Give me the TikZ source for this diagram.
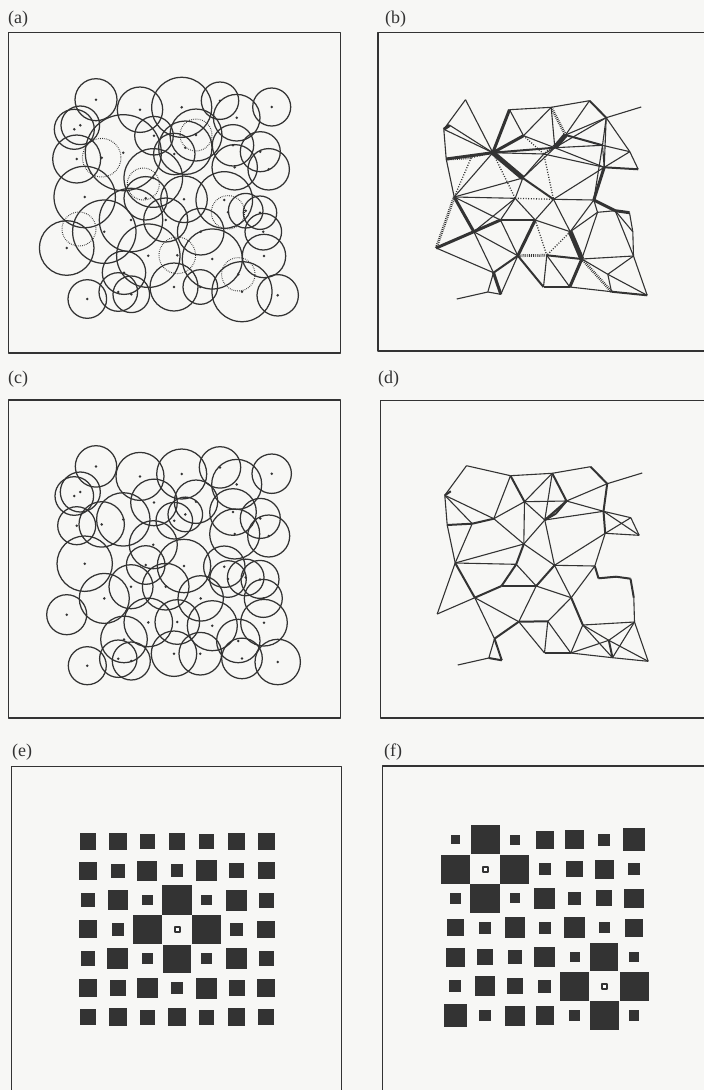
\documentclass[tikz,border=0pt]{standalone}
\usepackage{fontspec}
\setmainfont{Liberation Serif}
\definecolor{ink}{HTML}{333333}
\definecolor{paper}{HTML}{F7F7F5}
\tikzset{
  panelbox/.style={draw=ink, line width=1.3pt},
  panellabel/.style={font=\fontsize{18}{20}\selectfont, anchor=west, inner sep=0pt, text=ink},
  cell/.style={draw=ink, line width=1.25pt},
  cellalt/.style={draw=ink, line width=1pt, dash pattern=on 0.7pt off 1.2pt},
  centre/.style={fill=ink},
  thinedge/.style={draw=ink, line width=1.1pt},
  midedge/.style={draw=ink, line width=2pt},
  thickedge/.style={draw=ink, line width=3pt},
  heavyedge/.style={draw=ink, line width=4.8pt},
  hatchedge/.style={draw=ink, line width=2.8pt, dash pattern=on 0.8pt off 1.1pt},
  dotedge/.style={draw=ink, line width=1.3pt, dash pattern=on 1pt off 1.6pt},
  sqfill/.style={fill=ink},
  holecell/.style={draw=ink, line width=2.2pt, minimum size=5pt, inner sep=0pt, fill=white},
}
% cell centres, in the frame of panel (a)
\newcommand{\cellpts}{1/96.0/99.7, 2/140.0/109.7, 3/181.7/107.3, 4/220.0/100.7,
  5/236.7/117.7, 6/271.7/107.0, 7/80.3/125.3, 8/74.3/129.3, 9/154.0/135.7,
  10/196.0/135.0, 11/185.3/147.7, 12/174.3/154.0, 13/123.3/152.7, 14/101.7/157.7,
  15/76.7/159.0, 16/233.0/145.3, 17/260.3/151.7, 18/268.7/169.3, 19/234.7/167.3,
  20/153.3/178.0, 21/84.7/197.0, 22/145.7/198.3, 23/184.0/199.3, 24/224.3/200.0,
  25/228.0/212.3, 26/245.7/210.7, 27/260.0/212.7, 28/131.0/220.0, 29/165.7/220.0,
  30/104.3/231.7, 31/200.7/231.7, 32/263.3/231.7, 33/66.7/248.0, 34/148.3/255.7,
  35/177.3/255.3, 36/212.3/259.0, 37/264.0/256.0, 38/124.0/272.7, 39/238.3/274.3,
  40/174.0/287.0, 41/200.3/287.0, 42/118.3/292.0, 43/131.3/294.3, 44/242.0/291.7,
  45/277.7/295.3, 46/87.3/299.0}
% square sizes of the two grids, row by row (0 = hollow cell)
\newcommand{\gridE}{{16.7,17.7,15,16.7,14.7,17.7,16.7},{17.7,14.3,20,12.7,20.7,15,17.3},
  {14.3,20.3,10.3,29.3,10.7,21,15},{18,12.3,29,0,29,13.3,17.7},
  {14.7,21,11,28.3,11.3,20.7,15},{17.7,15.7,20.7,12.7,21,16,17.7},
  {16,17.7,15.3,17.7,15,17.7,15.7}}
\newcommand{\gridF}{{9.3,29,10.3,18.3,19,12.3,22.7},{29,0,29,12.3,16.7,19,12.3},
  {10.7,29.3,10,20.7,13.3,16,19.3},{17.3,11.7,20.7,12.3,20.7,11.3,18.3},
  {19,15.7,14,20.7,10,28.3,10.7},{11.7,19.7,16,12.7,29.3,0,29},
  {23.3,11.7,20,18.3,11,29,10.7}}

\begin{document}
\begin{tikzpicture}[x=1pt, y=-1pt, line join=round]

  \useasboundingbox (0,0) rectangle (704,1090);
  \clip (0,0) rectangle (704,1090);
  \fill[paper] (0,0) rectangle (704,1090);

  %% ---- labels and frames ----
  \node[panellabel] (lblA) at (8,19)    {(a)};
  \node[panellabel] (lblB) at (385,19)  {(b)};
  \node[panellabel] (lblC) at (8,379)   {(c)};
  \node[panellabel] (lblD) at (378,379) {(d)};
  \node[panellabel] (lblE) at (12,752)  {(e)};
  \node[panellabel] (lblF) at (384,752) {(f)};

  \draw[panelbox] (8.3,32.5)   rectangle (340.5,353);
  \draw[panelbox] (378,32.5)   rectangle (712,351);
  \draw[panelbox] (8.3,400)    rectangle (340.7,718);
  \draw[panelbox] (380.3,400.7) rectangle (712,718);
  \draw[panelbox] (11.7,766.7) rectangle (341.7,1100);
  \draw[panelbox] (382.7,766)  rectangle (712,1100);

  %% ---- (a) cells with spread radii ----
  \begin{scope}
    \foreach \n/\x/\y in \cellpts {\coordinate (a\n) at (\x,\y);}
    \foreach \n/\r in {1/21.0, 2/22.7, 3/30.0, 4/18.7, 5/23.3, 6/19.0, 7/19.3,
        8/20.0, 9/19.3, 10/26.0, 11/26.7, 12/20.7, 13/38.0, 15/24.0, 16/20.7,
        17/20.0, 18/20.7, 19/22.7, 20/29.3, 21/30.7, 22/21.7, 23/23.3, 24/28.3,
        26/17.3, 27/16.7, 28/31.7, 29/22.0, 30/31.7, 31/23.3, 32/18.3, 33/27.3,
        34/31.7, 36/30.0, 37/21.7, 38/21.7, 40/24.0, 41/17.3, 42/19.3, 43/18.3,
        44/30.0, 45/20.7, 46/19.3}
      {\draw[cell] (a\n) circle[radius=\r];}
    \foreach \n/\r in {14/19.3, 25/16.7, 35/18.3, 39/16.7, 10/16.0}
      {\draw[cellalt] (a\n) circle[radius=\r];}
    \draw[cellalt] (79,229) circle[radius=17];
    \draw[cellalt] (143.3,184) circle[radius=16];
    \foreach \n/\x/\y in \cellpts {\fill[centre] (a\n) circle[radius=1.4];}
  \end{scope}

  %% ---- (b) network, weighted ----
  \begin{scope}[shift={(369.5,0)}]
    \foreach \n/\x/\y in \cellpts {\coordinate (b\n) at (\x,\y);}
    \foreach \u/\v in {1/8, 1/13, 7/13, 8/13, 2/9, 3/9, 2/3, 3/4, 5/6, 5/16,
        5/11, 9/11, 11/16, 16/17, 17/18, 16/19, 17/19, 12/20, 11/20, 20/22,
        20/21, 22/28, 22/29, 23/29, 23/24, 5/19, 25/26, 24/25, 25/31,
        27/32, 26/32, 32/37, 37/45, 39/44, 36/39, 40/41, 35/40, 35/41,
        38/42, 42/43, 43/34, 42/46, 30/34, 28/34, 30/38, 21/28, 8/15,
        15/21, 23/31, 29/31, 36/37, 37/39, 24/31, 5/17, 22/30, 4/10, 3/11,
        10/5, 12/13, 12/11, 19/11, 13/21, 21/22, 28/29, 25/36, 41/44, 33/38,
        39/45, 26/37, 16/24, 19/23, 12/19}
      {\draw[thinedge] (b\u) -- (b\v);}
    \foreach \u/\v in {4/5, 20/23, 35/36, 44/45, 18/19, 16/10, 13/11, 34/40, 34/38}
      {\draw[midedge] (b\u) -- (b\v);}
    \foreach \u/\v in {2/13, 13/15, 21/30, 29/34, 24/26, 26/27, 30/33, 28/30,
        9/13, 7/8, 38/43, 36/41, 19/24}
      {\draw[thickedge] (b\u) -- (b\v);}
    \foreach \u/\v in {13/20, 31/36, 10/11}
      {\draw[heavyedge] (b\u) -- (b\v);}
    \foreach \u/\v in {3/10, 14/15, 21/33, 34/35, 36/44}
      {\draw[hatchedge] (b\u) -- (b\v);}
    \foreach \u/\v in {13/14, 14/21, 13/22, 22/23, 29/35, 10/12, 31/35, 12/23, 9/12}
      {\draw[dotedge] (b\u) -- (b\v);}
  \end{scope}

  %% ---- (c) cells, even radii ----
  \begin{scope}[shift={(0,366.7)}]
    \foreach \n/\x/\y in \cellpts {\coordinate (c\n) at (\x,\y);}
    \foreach \n/\r in {1/20.7, 2/24.0, 3/25.0, 4/20.7, 5/25.0, 6/19.7, 7/20.0,
        8/19.3, 9/23.3, 10/21.7, 11/17.3, 12/18.3, 13/26.7, 14/22.7, 15/19.0,
        16/23.3, 17/20.0, 18/21.0, 19/25.0, 20/24.0, 21/27.7, 22/19.3, 23/26.7,
        24/20.7, 25/18.3, 26/18.3, 27/19.0, 28/22.0, 29/23.3, 30/25.0, 31/22.7,
        32/19.0, 33/20.0, 34/24.3, 35/22.3, 36/25.0, 37/23.3, 38/23.3, 39/21.7,
        40/22.7, 41/21.3, 42/18.7, 43/19.0, 44/20.3, 45/22.7, 46/19.0}
      {\draw[cell] (c\n) circle[radius=\r];}
    \foreach \n/\x/\y in \cellpts {\fill[centre] (c\n) circle[radius=1.4];}
  \end{scope}

  %% ---- (d) network, even weights ----
  \begin{scope}[shift={(370.5,366)}]
    \foreach \n/\x/\y in \cellpts {\coordinate (d\n) at (\x,\y);}
    \foreach \u/\v in {1/8, 1/2, 2/3, 3/4, 5/6, 3/9, 8/15, 8/14, 13/9, 13/20,
        9/12, 9/10, 10/16, 5/10, 16/17, 17/18, 18/19, 16/18, 17/19, 12/20,
        20/23, 12/23, 15/21, 21/22, 21/33, 30/33, 28/29, 22/29, 23/24, 23/31,
        24/31, 25/26, 29/34, 30/34, 34/40, 35/40, 35/41, 36/41, 36/39, 37/39,
        37/45, 44/45, 32/37, 42/46, 38/42, 36/37, 39/41, 31/36, 31/35, 19/24,
        20/21, 36/44, 37/44, 8/13, 2/13, 12/16, 20/9, 14/21, 23/19, 29/31,
        30/38, 39/45, 41/44, 3/12}
      {\draw[thinedge] (d\u) -- (d\v);}
    \foreach \u/\v in {4/5, 2/9, 14/15, 13/14, 10/11, 11/12, 10/12, 5/16,
        16/19, 20/22, 23/29, 24/25, 26/27, 27/32, 34/35, 34/38, 38/43, 39/44,
        40/41, 21/30, 22/28, 42/43, 7/8, 28/30, 3/10, 31/36, 25/26}
      {\draw[midedge] (d\u) -- (d\v);}
  \end{scope}

  %% ---- (e) grid, one hole in the middle ----
  \foreach \rowsizes [count=\r] in \gridE {
    \foreach \s [count=\c] in \rowsizes {
      \pgfmathsetmacro\cx{88+(\c-1)*29.7}
      \pgfmathsetmacro\cy{841.5+(\r-1)*29.3}
      \ifdim\s pt>0pt
        \fill[sqfill] (\cx-\s/2,\cy-\s/2) rectangle (\cx+\s/2,\cy+\s/2);
      \fi
    }
  }
  \node[holecell] (holeE) at (177.1,929.4) {};

  %% ---- (f) grid, two holes ----
  \foreach \rowsizes [count=\r] in \gridF {
    \foreach \s [count=\c] in \rowsizes {
      \pgfmathsetmacro\cx{455.3+(\c-1)*29.8}
      \pgfmathsetmacro\cy{839.8+(\r-1)*29.3}
      \ifdim\s pt>0pt
        \fill[sqfill] (\cx-\s/2,\cy-\s/2) rectangle (\cx+\s/2,\cy+\s/2);
      \fi
    }
  }
  \node[holecell] (holeF1) at (485.1,869.1) {};
  \node[holecell] (holeF2) at (604.3,986.3) {};

\end{tikzpicture}
\end{document}
